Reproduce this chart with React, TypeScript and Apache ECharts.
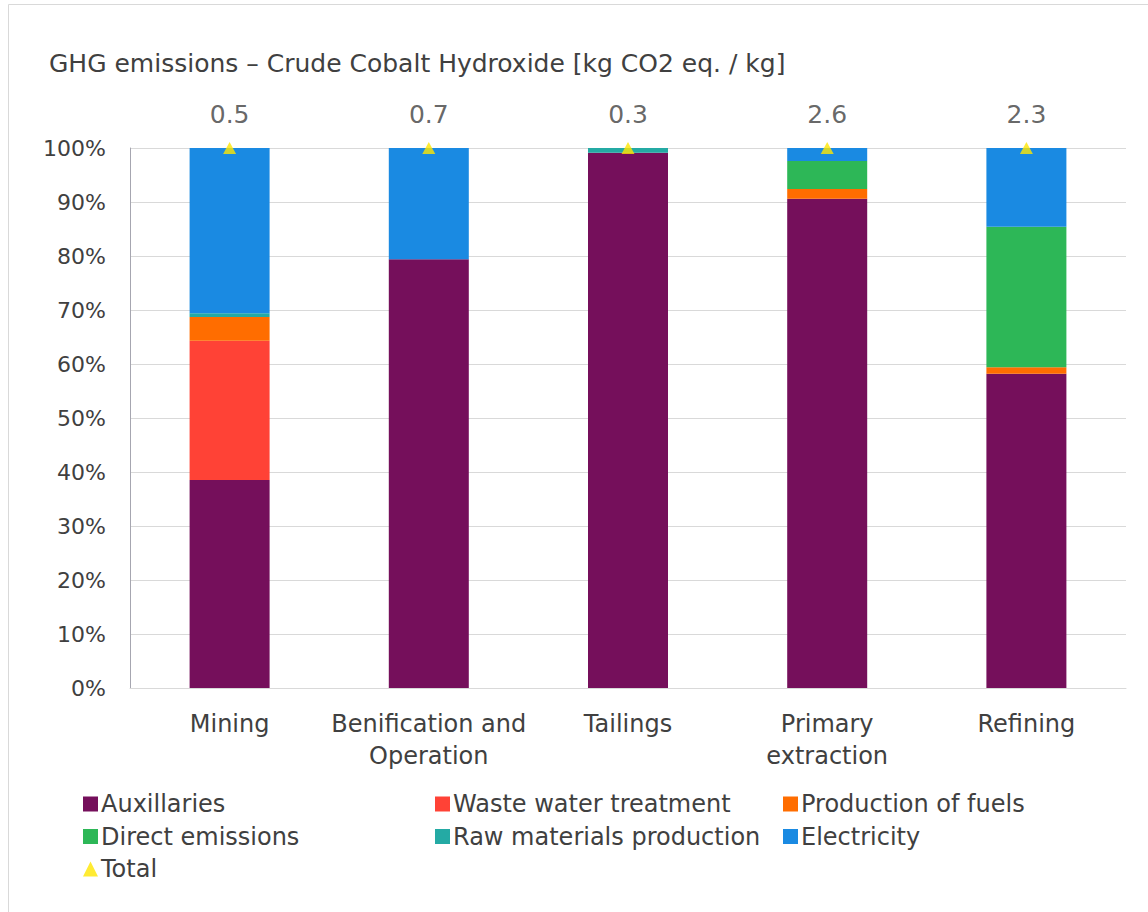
import React, { useEffect, useRef } from "react";
import * as echarts from "echarts";

const categories = ["Mining", "Benification and\nOperation", "Tailings", "Primary\nextraction", "Refining"];
const auxillaries = [38.5, 79.4, 99.1, 90.6, 58.2];
const wasteWater = [25.8, 0, 0, 0, 0];
const fuels = [4.4, 0, 0, 1.8, 1.2];
const directEmissions = [0, 0, 0, 5.2, 26.0];
const rawMaterials = [0.7, 0, 0.9, 0, 0];
const electricity = [30.6, 20.6, 0, 2.4, 14.6];
const totals = [0.5, 0.7, 0.3, 2.6, 2.3];
const totalMarkerPos = [100, 100, 100, 100, 100];
const yTicks = [0, 10, 20, 30, 40, 50, 60, 70, 80, 90, 100];

const FONT = "DejaVu Sans";
const TXT = "#404040";

export default function App() {
  const ref = useRef<HTMLDivElement>(null);
  useEffect(() => {
    if (!ref.current) return;
    const chart = echarts.init(ref.current, undefined, { renderer: "svg" });
    const bar = (name: string, data: number[], color: string) => ({
      name,
      type: "bar",
      stack: "s",
      data,
      barWidth: 80,
      itemStyle: { color },
      emphasis: { disabled: true },
    });
    const legendText = { fontFamily: FONT, fontSize: 24, color: TXT, padding: [0, 0, 0, -2], lineHeight: 24 };
    const legendBase = {
      orient: "vertical",
      top: 787,
      itemWidth: 15,
      itemHeight: 15,
      itemGap: 8.5,
      textStyle: legendText,
    };
    chart.setOption({
      animation: false,
      textStyle: { fontFamily: FONT, color: TXT },
      title: {
        text: "GHG emissions – Crude Cobalt Hydroxide [kg CO2 eq. / kg]",
        left: 44,
        top: 46,
        textStyle: { fontFamily: FONT, fontSize: 25, fontWeight: "normal", color: TXT },
      },
      graphic: [
        {
          type: "rect",
          shape: { x: 8.5, y: 4.5, width: 1300, height: 1000 },
          style: { fill: "none", stroke: "#d9d9d9", lineWidth: 1 },
          silent: true,
        },
      ],
      grid: { left: 130, right: 22, top: 148, bottom: 224 },
      xAxis: {
        type: "category",
        data: categories,
        axisLine: { show: true, lineStyle: { color: "#d9d9d9" } },
        axisTick: { show: false },
        axisLabel: { interval: 0, fontFamily: FONT, fontSize: 24, color: TXT, margin: 20, lineHeight: 32 },
      },
      yAxis: {
        type: "value",
        min: 0,
        max: 100,
        interval: 10,
        axisLine: { show: true, lineStyle: { color: "#a6a6b0" } },
        axisTick: { show: false },
        splitLine: { lineStyle: { color: "#d9d9d9" } },
        axisLabel: {
          fontFamily: FONT,
          fontSize: 22,
          color: TXT,
          margin: 24,
          formatter: (v: number) => (yTicks.includes(v) ? v + "%" : ""),
        },
      },
      legend: [
        {
          ...legendBase,
          left: 78,
          data: [
            { name: "Auxillaries", icon: "rect" },
            { name: "Direct emissions", icon: "rect" },
            { name: "Total", icon: "triangle" },
          ],
        },
        {
          ...legendBase,
          left: 430,
          data: [
            { name: "Waste water treatment", icon: "rect" },
            { name: "Raw materials production", icon: "rect" },
          ],
        },
        {
          ...legendBase,
          left: 778,
          data: [
            { name: "Production of fuels", icon: "rect" },
            { name: "Electricity", icon: "rect" },
          ],
        },
      ],
      series: [
        bar("Auxillaries", auxillaries, "#750f5b"),
        bar("Waste water treatment", wasteWater, "#ff4236"),
        bar("Production of fuels", fuels, "#ff6d00"),
        bar("Direct emissions", directEmissions, "#2db757"),
        bar("Raw materials production", rawMaterials, "#24aaa4"),
        bar("Electricity", electricity, "#1a8ae2"),
        {
          name: "Total",
          type: "scatter",
          data: totalMarkerPos,
          symbol: "triangle",
          symbolSize: [13, 12],
          itemStyle: { color: "#ffe600" },
          emphasis: { disabled: true },
          label: {
            show: true,
            position: "top",
            distance: 15,
            fontFamily: FONT,
            fontSize: 25,
            color: TXT,
            formatter: (p: any) => String(totals[p.dataIndex]),
          },
          z: 5,
        },
      ],
    });
    return () => chart.dispose();
  }, []);
  return (
    <div style={{ position: "fixed", left: 0, top: 0, width: 1148, height: 912, overflow: "hidden", background: "#fff" }}>
      <div ref={ref} style={{ width: 1148, height: 912 }} />
    </div>
  );
}
